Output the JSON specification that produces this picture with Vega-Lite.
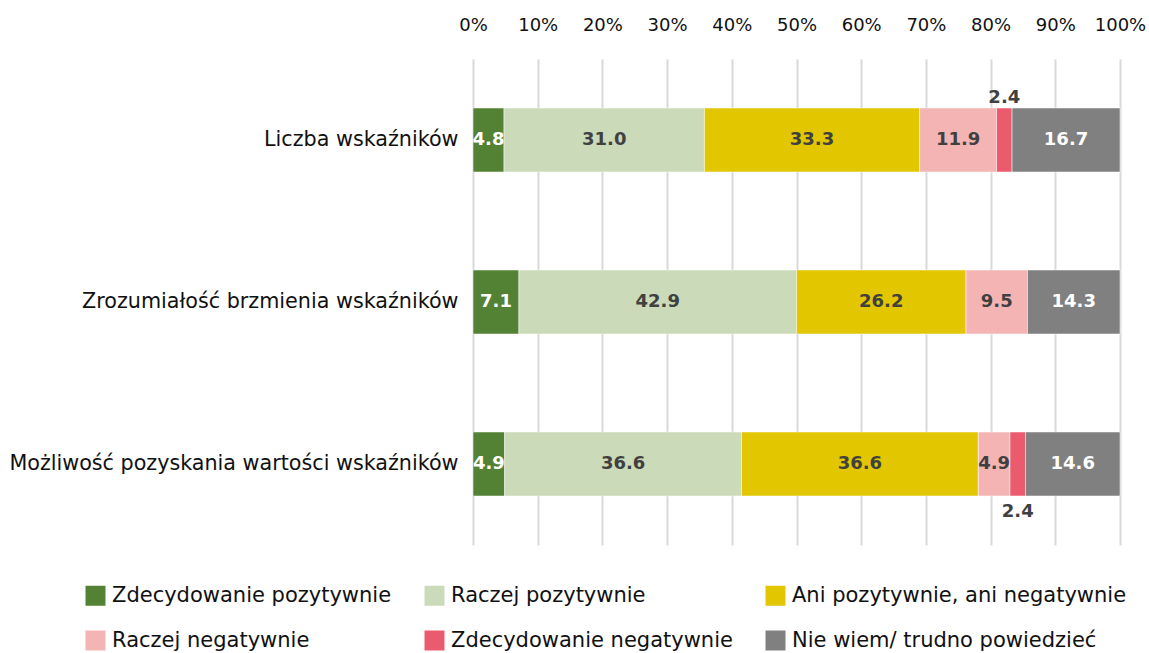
{
  "$schema": "https://vega.github.io/schema/vega-lite/v6.json",
  "width": 647,
  "height": 486,
  "autosize": {"type": "none"},
  "padding": {"left": 473, "top": 59, "right": 29, "bottom": 108},
  "config": {
    "view": {"stroke": null},
    "font": "DejaVu Sans",
    "axis": {"labelFont": "DejaVu Sans", "labelColor": "#111111"},
    "legend": {"labelFont": "DejaVu Sans", "labelColor": "#111111"}
  },
  "data": {
    "values": [
      {"q": "Liczba wskaźników", "c": "Zdecydowanie pozytywnie", "k": 1, "v": 4.8},
      {"q": "Liczba wskaźników", "c": "Raczej pozytywnie", "k": 2, "v": 31.0},
      {"q": "Liczba wskaźników", "c": "Ani pozytywnie, ani negatywnie", "k": 3, "v": 33.3},
      {"q": "Liczba wskaźników", "c": "Raczej negatywnie", "k": 4, "v": 11.9},
      {"q": "Liczba wskaźników", "c": "Zdecydowanie negatywnie", "k": 5, "v": 2.4},
      {"q": "Liczba wskaźników", "c": "Nie wiem/ trudno powiedzieć", "k": 6, "v": 16.7},
      {"q": "Zrozumiałość brzmienia wskaźników", "c": "Zdecydowanie pozytywnie", "k": 1, "v": 7.1},
      {"q": "Zrozumiałość brzmienia wskaźników", "c": "Raczej pozytywnie", "k": 2, "v": 42.9},
      {"q": "Zrozumiałość brzmienia wskaźników", "c": "Ani pozytywnie, ani negatywnie", "k": 3, "v": 26.2},
      {"q": "Zrozumiałość brzmienia wskaźników", "c": "Raczej negatywnie", "k": 4, "v": 9.5},
      {"q": "Zrozumiałość brzmienia wskaźników", "c": "Nie wiem/ trudno powiedzieć", "k": 6, "v": 14.3},
      {"q": "Możliwość pozyskania wartości wskaźników", "c": "Zdecydowanie pozytywnie", "k": 1, "v": 4.9},
      {"q": "Możliwość pozyskania wartości wskaźników", "c": "Raczej pozytywnie", "k": 2, "v": 36.6},
      {"q": "Możliwość pozyskania wartości wskaźników", "c": "Ani pozytywnie, ani negatywnie", "k": 3, "v": 36.6},
      {"q": "Możliwość pozyskania wartości wskaźników", "c": "Raczej negatywnie", "k": 4, "v": 4.9},
      {"q": "Możliwość pozyskania wartości wskaźników", "c": "Zdecydowanie negatywnie", "k": 5, "v": 2.4},
      {"q": "Możliwość pozyskania wartości wskaźników", "c": "Nie wiem/ trudno powiedzieć", "k": 6, "v": 14.6}
    ]
  },
  "encoding": {
    "y": {
      "field": "q",
      "type": "nominal",
      "sort": null,
      "scale": {"paddingInner": 0.605, "paddingOuter": 0.3025},
      "axis": {"title": null, "labelFontSize": 20.7, "labelPadding": 15, "ticks": false, "domain": false, "labelLimit": 500}
    },
    "x": {
      "field": "v",
      "type": "quantitative",
      "stack": "normalize",
      "scale": {"domain": [0, 1]},
      "axis": {
        "orient": "top",
        "title": null,
        "format": ".0%",
        "values": [0, 0.1, 0.2, 0.3, 0.4, 0.5, 0.6, 0.7, 0.8, 0.9, 1],
        "labelOverlap": false,
        "labelBound": false,
        "labelFlush": false,
        "grid": true,
        "gridColor": "#d9d9d9",
        "gridWidth": 2,
        "domain": false,
        "ticks": false,
        "labelFontSize": 18,
        "labelPadding": 25
      }
    },
    "order": {"field": "k", "type": "quantitative", "sort": "ascending"}
  },
  "layer": [
    {
      "mark": {"type": "bar", "stroke": "#ffffff", "strokeWidth": 0.5},
      "encoding": {
        "color": {
          "field": "c",
          "type": "nominal",
          "sort": ["Zdecydowanie pozytywnie", "Raczej pozytywnie", "Ani pozytywnie, ani negatywnie", "Raczej negatywnie", "Zdecydowanie negatywnie", "Nie wiem/ trudno powiedzieć"],
          "scale": {
            "domain": ["Zdecydowanie pozytywnie", "Raczej pozytywnie", "Ani pozytywnie, ani negatywnie", "Raczej negatywnie", "Zdecydowanie negatywnie", "Nie wiem/ trudno powiedzieć"],
            "range": ["#548235", "#cbdab8", "#e2c600", "#f5b4b4", "#eb5b6e", "#808080"]
          },
          "legend": {
            "title": null,
            "orient": "none",
            "legendX": -388,
            "legendY": 526,
            "direction": "horizontal",
            "columns": 3,
            "symbolType": "square",
            "symbolSize": 400,
            "symbolStrokeWidth": 0,
            "labelFontSize": 21,
            "labelOffset": 6,
            "rowPadding": 23,
            "columnPadding": 32,
            "labelLimit": 400
          }
        }
      }
    },
    {
      "mark": {"type": "text", "fontSize": 18, "fontWeight": "bold"},
      "encoding": {
        "x": {"field": "v", "type": "quantitative", "stack": "normalize", "bandPosition": 0.5},
        "text": {"condition": {"test": "datum.v >= 4", "field": "v", "format": ".1f"}, "value": ""},
        "color": {"condition": {"test": "datum.c == 'Zdecydowanie pozytywnie' || datum.c == 'Nie wiem/ trudno powiedzieć'", "value": "#ffffff"}, "value": "#404040"}
      }
    },
    {
      "mark": {"type": "text", "fontSize": 18, "fontWeight": "bold", "dy": -42, "color": "#404040"},
      "encoding": {
        "x": {"field": "v", "type": "quantitative", "stack": "normalize", "bandPosition": 0.5},
        "text": {"condition": {"test": "datum.v < 4 && datum.q == 'Liczba wskaźników'", "field": "v", "format": ".1f"}, "value": ""}
      }
    },
    {
      "mark": {"type": "text", "fontSize": 18, "fontWeight": "bold", "dy": 48, "color": "#404040"},
      "encoding": {
        "x": {"field": "v", "type": "quantitative", "stack": "normalize", "bandPosition": 0.5},
        "text": {"condition": {"test": "datum.v < 4 && datum.q != 'Liczba wskaźników'", "field": "v", "format": ".1f"}, "value": ""}
      }
    }
  ]
}
